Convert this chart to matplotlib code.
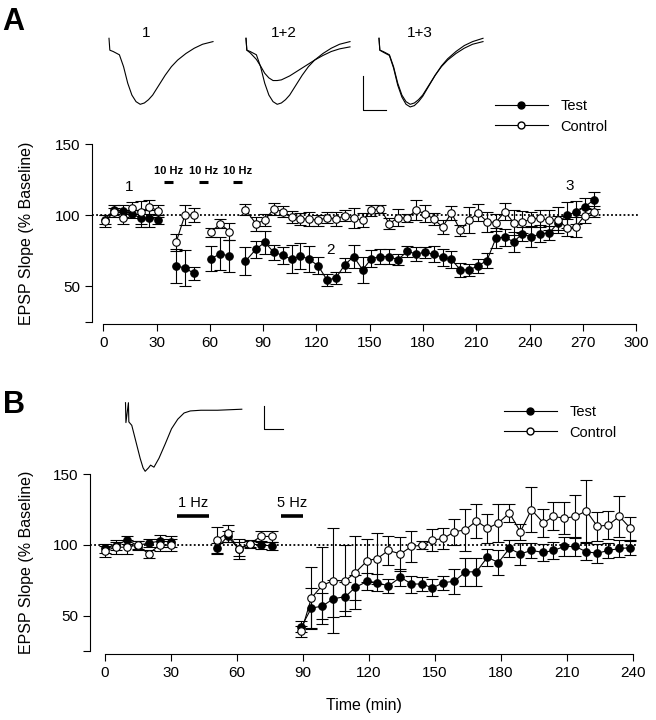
# -*- coding: utf-8 -*-

import numpy as np
import matplotlib.pyplot as plt
from matplotlib.lines import Line2D

plt.rcParams['font.family'] = ['Liberation Sans', 'DejaVu Sans']
plt.rcParams['font.size'] = 11

# ---------------- panel A : EPSP slope (% baseline) ----------------
a_time = [1, 6, 11, 16, 21, 26, 31,
          41, 46, 51,
          60.5, 66, 71,
          80, 86, 91, 96, 101, 106, 111, 116, 121, 126, 131, 136, 141, 146,
          151, 156, 161, 166, 171, 176, 181, 186, 191, 196, 201, 206, 211,
          216, 221, 226, 231, 236, 241, 246, 251, 256, 261, 266, 271, 276]
a_test = [97, 104, 103, 101, 98, 98, 97,
          64.3, 62.9, 59.1,
          69.5, 72.8, 71.3,
          67.6, 76.1, 81, 73.8, 71.9, 69.0, 71.3, 69.0, 64.3, 54.4, 55.8, 65.2,
          70.9, 61.5, 69.5, 70.9, 70.9, 68.6, 74.6, 72.8, 73.8, 72.5, 70.4,
          69.0, 61.5, 61.5, 64.3, 68.1, 83.7, 84.6, 81.3, 87.0, 84.6, 87.0,
          87.5, 94.6, 100.2, 102.1, 105.9, 110.6]
a_test_err = [3, 3, 4, 3, 6, 6, 3,
              12, 12.8, 4.7,
              8.7, 11.6, 11.3,
              9.7, 6, 8, 5, 6, 10, 9, 9, 6, 4, 4, 5, 8, 9, 6, 5, 5, 4, 4, 5,
              4, 5.5, 6, 6, 5, 4, 5, 5, 7, 6, 7, 5, 7, 6, 5, 5, 9, 8, 6, 6]
a_ctrl = [96, 102, 98, 105, 102, 106, 103,
          80.9, 100.2, 100.2,
          88, 94.1, 88.4,
          104, 94, 96.7, 104.5, 102.6, 98.8, 97.4, 97.4, 96.5, 98.3, 97.4,
          99.8, 97.9, 96.5, 103.5, 104.5, 94.1, 98.3, 97.9, 103.5, 101.2,
          97.4, 91.7, 101.7, 89.4, 96.5, 101.7, 95.5, 94.8, 102.6, 94.8,
          95.2, 97.4, 97.9, 96.5, 96.5, 91.3, 91.7, 99.8, 102.6]
a_ctrl_err = [4, 3, 4, 4, 8, 5, 4,
              6, 7, 5,
              3, 3, 6,
              4, 5, 4, 4, 4, 4, 4, 5, 4, 4, 5, 4, 7, 5, 4, 3, 4, 6, 3, 7, 6,
              4, 5, 5, 4, 9, 6, 7, 6, 6, 9, 8, 5, 6, 7, 9, 6, 7, 5, 4]
a_breaks = [7, 10, 13]          # first index of each new recording block
a_stim = [(34, 39), (54, 59), (73, 78)]
a_stim_label = '10 Hz'
a_marks = [('1', 14.6, 119.6), ('2', 128, 75.7), ('3', 262.6, 120.6)]

# ---------------- panel B ----------------
b_time = [0, 5, 10, 15, 20, 25, 30,
          51, 56, 61, 66, 71, 76,
          89.5, 94, 99, 104, 109.5, 114, 119.5, 124, 129, 134.5, 139.5, 144.5,
          149, 154, 159, 164, 169, 174, 179, 184, 189, 194, 199.5, 204, 209,
          214, 219, 224, 229, 234, 239]
b_test = [97.4, 99, 103.5, 99.5, 101.2, 102.6, 102.1,
          97.4, 106, 96.9, 100.7, 99.8, 99.3,
          42.1, 55.3, 56.7, 61.9, 63.4, 70, 74.2, 73.3, 70.9, 77.1, 72.3, 72.3,
          69.5, 73.3, 74.2, 80.9, 80.9, 91.2, 87.5, 97.4, 93.6, 96, 94.6, 96,
          98.8, 98.8, 95, 94.1, 96, 97.4, 97.9]
b_test_err = [3, 3, 3, 3, 3, 4, 4,
              4, 4, 5, 3, 3, 3,
              4, 14, 9, 13, 10, 9, 6, 6, 5, 6, 6, 5, 6, 5, 9, 10, 10, 6, 8.5,
              6, 7.6, 5, 6, 5.7, 6.6, 6.6, 6, 6.6, 5, 6, 5]
b_ctrl = [95.5, 98.3, 98.3, 99.8, 93.6, 99.8, 99.8,
          103.5, 108.3, 96.9, 100.7, 105.9, 105.9,
          39, 62.4, 71.4, 74.7, 74.7, 80.4, 88.9, 90.3, 96.0, 93.6, 98.8, 99.8,
          103.3, 104.5, 109.2, 110.6, 116.8, 111.6, 115.4, 122.5, 109.2, 124.8,
          115.4, 120.1, 118.7, 120.1, 123.9, 113, 114, 120.1, 111.6]
b_ctrl_err = [4, 5, 5, 3, 3, 4, 4,
              9, 6, 7, 2, 4, 4,
              4, 22, 27, 37, 25, 26, 15, 18, 10, 12, 11, 3, 8, 7.6, 9, 14.7,
              12.3, 10, 13.7, 6.6, 5.7, 16, 10, 10, 11.3, 15, 21.7, 10, 10,
              14.6, 8]
b_breaks = [7, 13]
b_stim = [(33, 47.6, '1 Hz'), (80.4, 90.4, '5 Hz')]

# ---------------- example EPSP traces (mV, ms) ----------------
tr_t = [0, 0.2, 1, 2.5, 3.5, 4.5, 5.5, 6.5, 7.5, 8.5, 9.5, 10.5, 12, 13.5,
        15, 16.5, 18.5, 20.5, 22.5, 25]
tr_base = [0, -0.18, -0.20, -0.25, -0.43, -0.68, -0.86, -0.96, -1.0, -0.98,
           -0.93, -0.86, -0.71, -0.56, -0.43, -0.33, -0.23, -0.15, -0.09, -0.05]
tr_dep = [0, -0.18, -0.22, -0.32, -0.42, -0.53, -0.60, -0.64, -0.64, -0.63,
          -0.60, -0.57, -0.51, -0.45, -0.39, -0.33, -0.26, -0.20, -0.16, -0.13]
tr_rec = [0, -0.18, -0.21, -0.26, -0.45, -0.71, -0.89, -1.0, -1.04, -1.02,
          -0.96, -0.88, -0.72, -0.56, -0.42, -0.31, -0.20, -0.11, -0.05, 0.0]
tr_labels = ['1', '1+2', '1+3']

trb_t = [0, 0.1, 0.7, 0.8, 1.5, 2.5, 3.5, 4.2, 4.7, 5.5, 6.0, 6.8, 8.0, 9.5,
         11, 12.5, 14, 15.5, 18, 22, 27.8]
trb_v = [0, -0.29, 0, -0.28, -0.33, -0.57, -0.81, -0.95, -1.0, -0.95, -0.91,
         -0.94, -0.81, -0.60, -0.38, -0.24, -0.15, -0.12, -0.11, -0.11, -0.095]

W, H = 656, 720


def fx(px):
    return px / W


def fy(py):
    return 1 - py / H


def plot_series(ax, t, test, test_err, ctrl, ctrl_err, breaks):
    t = np.asarray(t)
    edges = [0] + breaks + [len(t)]
    kw = dict(fmt='-o', color='k', mec='k', ms=5.4, lw=0.8, mew=0.8,
              elinewidth=0.8, capsize=4, capthick=0.8)
    for i0, i1 in zip(edges[:-1], edges[1:]):
        s = slice(i0, i1)
        ax.errorbar(t[s], np.asarray(test)[s], yerr=np.asarray(test_err)[s],
                    mfc='k', zorder=3, **kw)
        ax.errorbar(t[s], np.asarray(ctrl)[s], yerr=np.asarray(ctrl_err)[s],
                    mfc='w', zorder=4, **kw)
    ax.axhline(100, ls=(0, (1, 1.3)), color='k', lw=1.3, zorder=1)


def style_axes(ax, xmax, xstep):
    for s in ['top', 'right']:
        ax.spines[s].set_visible(False)
    ax.spines['left'].set_bounds(25, 150)
    ax.spines['bottom'].set_bounds(0, xmax)
    ax.spines['bottom'].set_position(('outward', 2))
    for s in ['left', 'bottom']:
        ax.spines[s].set_linewidth(0.8)
    ax.set_ylim(25, 150)
    ax.set_yticks([25, 50, 100, 150], ['', '50', '100', '150'])
    ax.set_xticks(np.arange(0, xmax + 1, xstep))
    ax.tick_params(direction='out', length=5, width=0.8, labelsize=11)
    ax.set_ylabel('EPSP Slope (% Baseline)', fontsize=11.5)


def scale_bar(fig, x, y_top, y_bot, x_end):
    fig.add_artist(Line2D([fx(x), fx(x), fx(x_end)],
                          [fy(y_top), fy(y_bot), fy(y_bot)],
                          color='k', lw=0.8))


fig = plt.figure(figsize=(6.56, 7.2), dpi=100)

# ---- panel A ----
axA = fig.add_axes([fx(91.7), fy(321.7), fx(548), 177.4 / H])
plot_series(axA, a_time, a_test, a_test_err, a_ctrl, a_ctrl_err, a_breaks)
style_axes(axA, 300, 30)
axA.set_xlim(-6.5, 302)
axA.yaxis.set_label_coords(-0.105, 0.5)
for t0, t1 in a_stim:
    axA.plot([t0, t1], [123.6, 123.6], color='k', lw=2.2, solid_capstyle='butt')
    axA.text((t0 + t1) / 2, 131.4, a_stim_label, ha='center', va='center',
             fontsize=8, fontweight='bold')
for txt, tx, ty in a_marks:
    axA.text(tx, ty, txt, ha='center', va='center', fontsize=11)

tr_left = [109, 246, 379]
tr_sets = [[tr_base], [tr_base, tr_dep], [tr_base, tr_rec]]
tr_lab_x = [146, 284, 420]
for left, traces, lab, lx in zip(tr_left, tr_sets, tr_labels, tr_lab_x):
    ax_t = fig.add_axes([fx(left), fy(104.3), fx(104), 66 / H])
    for v in traces:
        ax_t.plot(tr_t, v, color='k', lw=0.8, clip_on=False)
    ax_t.set_xlim(0, 25)
    ax_t.set_ylim(-1, 0)
    ax_t.axis('off')
    fig.text(fx(lx), fy(33), lab, ha='center', va='center', fontsize=11)
scale_bar(fig, 363, 76, 110, 386)

fig.text(0.004, 0.99, 'A', ha='left', va='top', fontsize=22,
         fontweight='bold', family=['Liberation Sans Narrow', 'Liberation Sans'])

handles = [Line2D([], [], color='k', lw=0.8, marker='o', ms=5, mfc='k', mec='k'),
           Line2D([], [], color='k', lw=0.8, marker='o', ms=5, mfc='w', mec='k')]
fig.legend(handles, ['Test', 'Control'], loc='upper left',
           bbox_to_anchor=(fx(495), fy(99)), frameon=False, fontsize=10.5,
           handlelength=3.6, handletextpad=0.9, labelspacing=0.45,
           borderpad=0, borderaxespad=0, numpoints=1)

# ---- panel B ----
axB = fig.add_axes([fx(90), fy(651), fx(547), 177 / H])
plot_series(axB, b_time, b_test, b_test_err, b_ctrl, b_ctrl_err, b_breaks)
style_axes(axB, 240, 30)
axB.set_xlim(-6.6, 242)
axB.yaxis.set_label_coords(-0.103, 0.5)
axB.set_xlabel('Time (min)', fontsize=11.5)
axB.xaxis.set_label_coords(0.5, -0.265)
for t0, t1, lab in b_stim:
    axB.plot([t0, t1], [120.4, 120.4], color='k', lw=2.6, solid_capstyle='butt')
    axB.text((t0 + t1) / 2, 129.5, lab, ha='center', va='center', fontsize=10.5)

ax_tb = fig.add_axes([fx(125.5), fy(471.3), fx(116.3), 68.6 / H])
ax_tb.plot(trb_t, trb_v, color='k', lw=0.8, clip_on=False)
ax_tb.set_xlim(0, 27.8)
ax_tb.set_ylim(-1, 0)
ax_tb.axis('off')
scale_bar(fig, 264.4, 406, 428.8, 282.8)

fig.text(0.004, fy(390), 'B', ha='left', va='top', fontsize=22,
         fontweight='bold', family=['Liberation Sans Narrow', 'Liberation Sans'])

fig.legend(handles, ['Test', 'Control'], loc='upper left',
           bbox_to_anchor=(fx(504), fy(405)), frameon=False, fontsize=10.5,
           handlelength=3.6, handletextpad=0.9, labelspacing=0.45,
           borderpad=0, borderaxespad=0, numpoints=1)

fig.savefig('out.png', dpi=100)
